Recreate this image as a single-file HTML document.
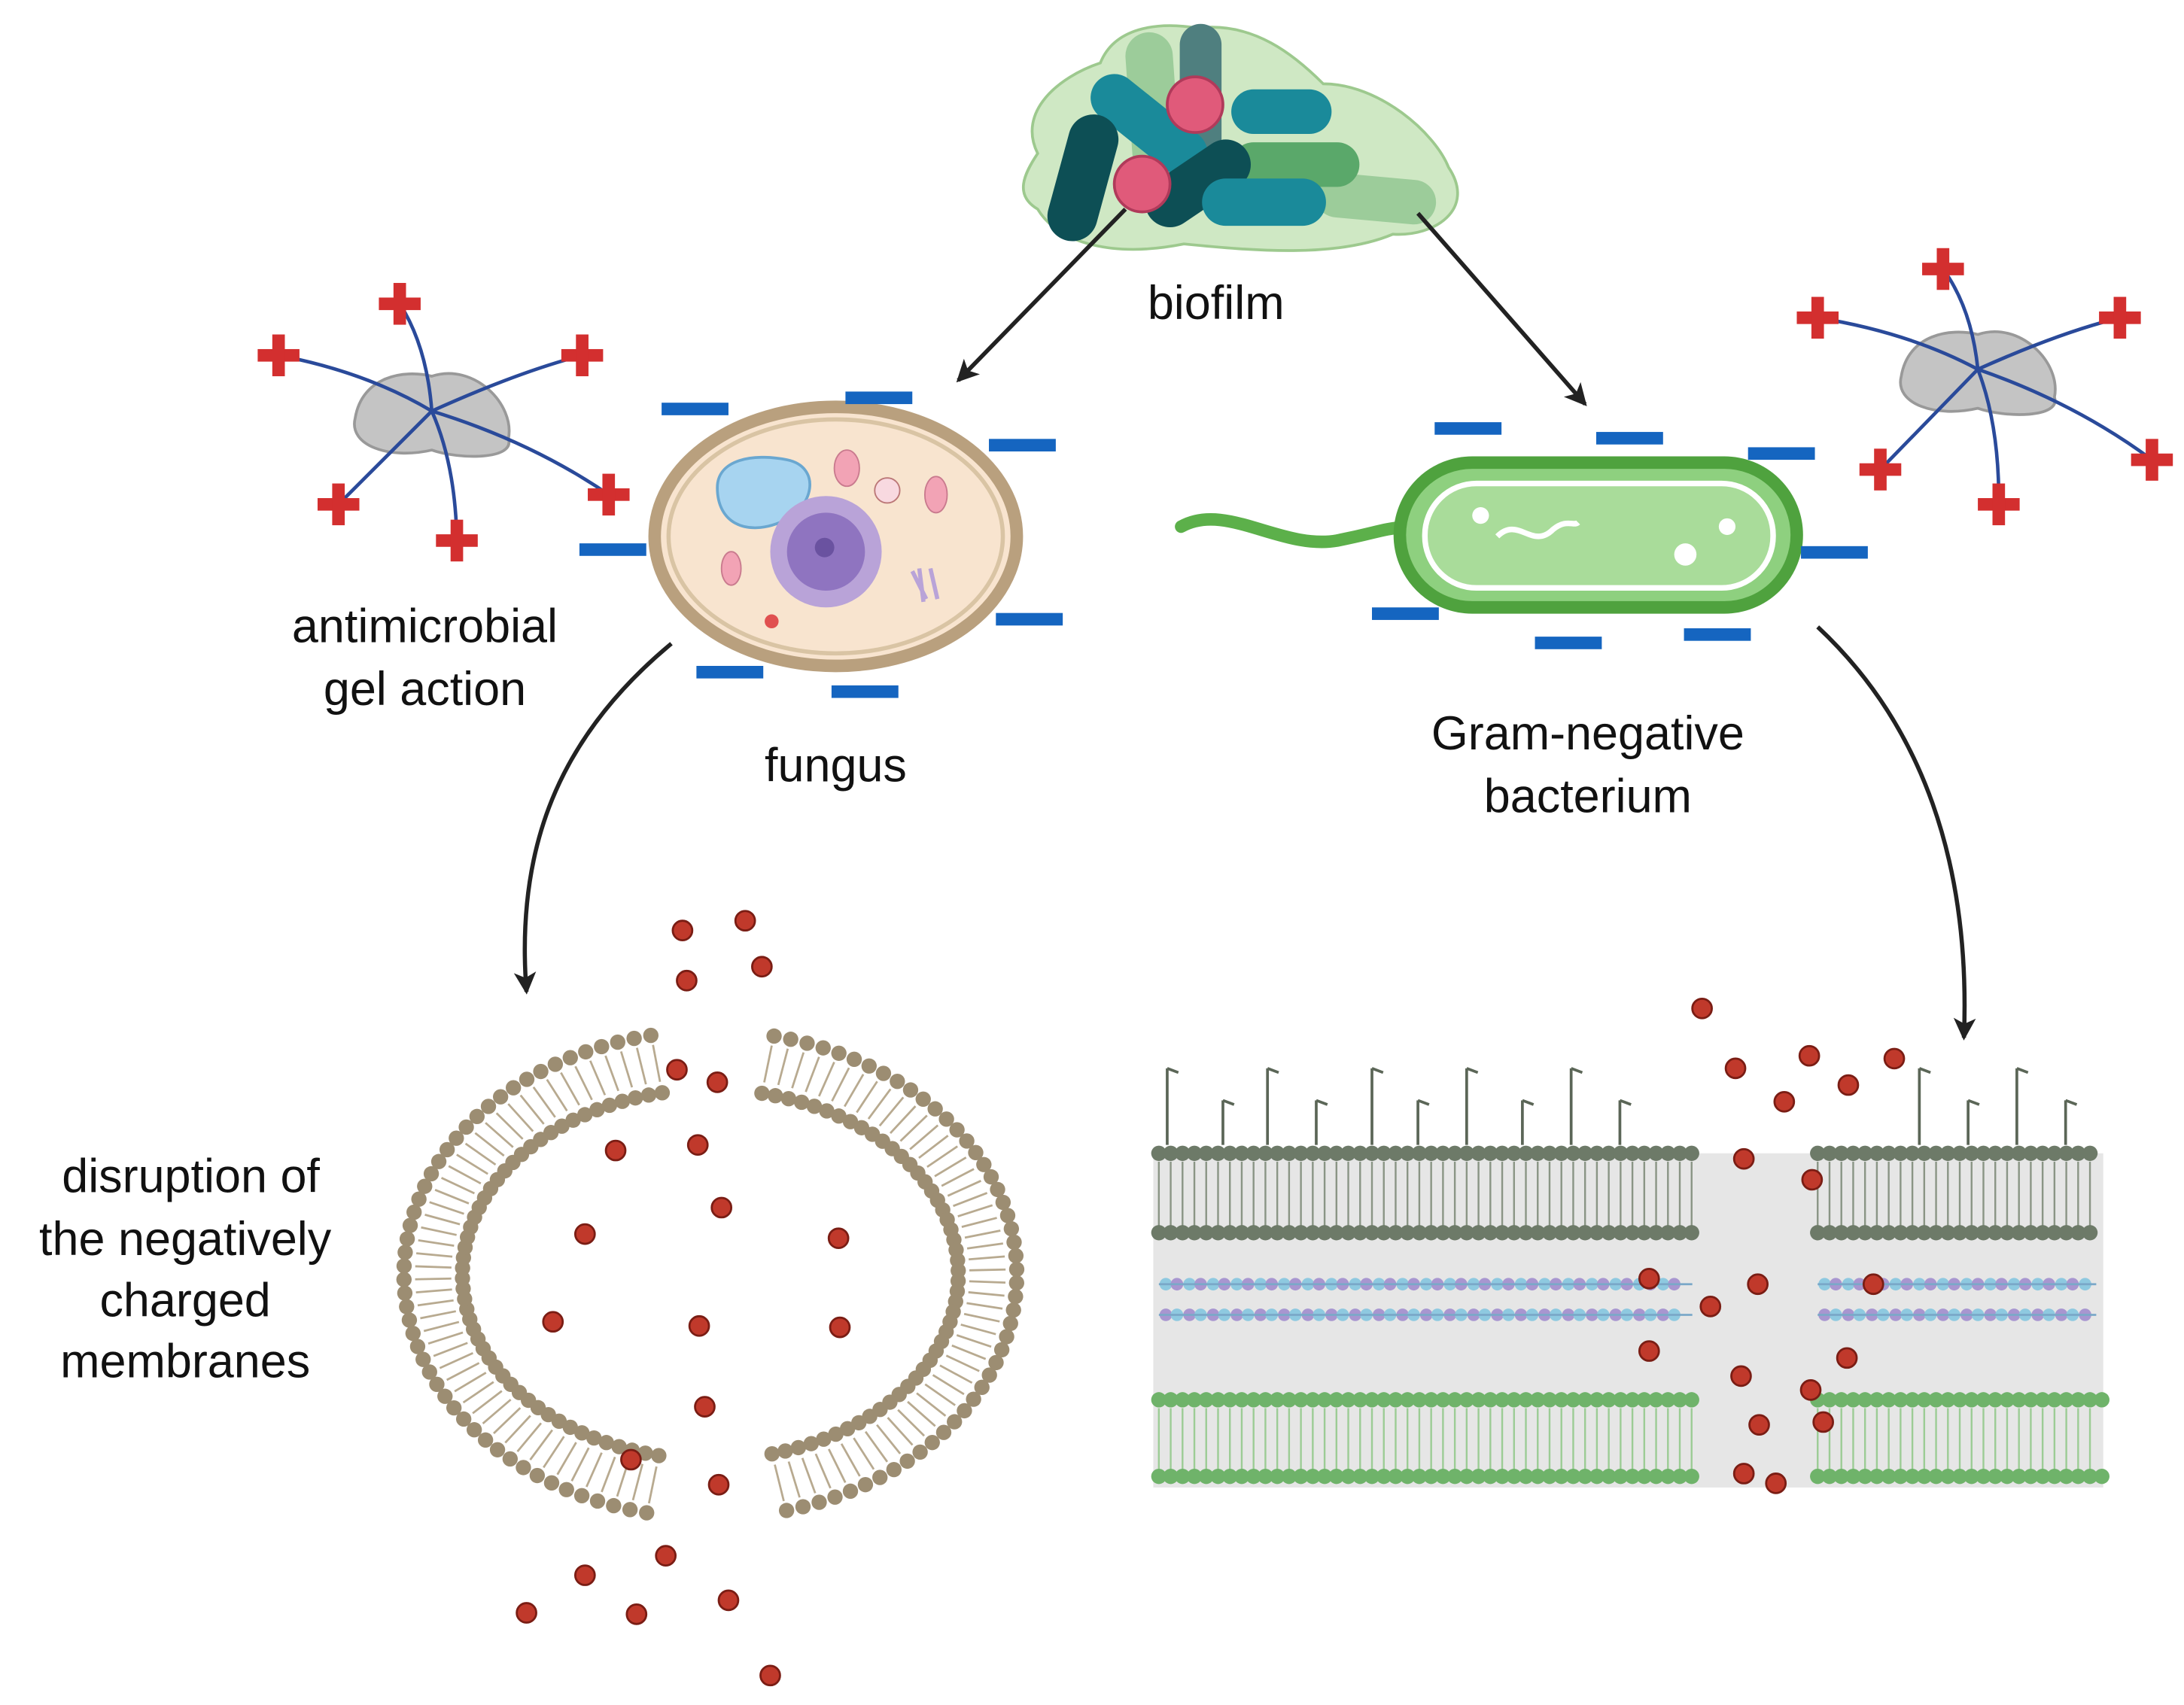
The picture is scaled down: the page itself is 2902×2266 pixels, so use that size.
<!DOCTYPE html>
<html><head><meta charset="utf-8"><style>
html,body{margin:0;padding:0;background:#fff;}
svg{display:block}
text{font-family:"Liberation Sans",sans-serif;fill:#111;}
</style></head><body>
<svg id="s" width="2902" height="2266" viewBox="0 0 1568 1224" xmlns="http://www.w3.org/2000/svg">
<defs>
<marker id="ah" markerWidth="18" markerHeight="18" refX="14" refY="8" orient="auto" markerUnits="userSpaceOnUse"><path d="M0,0 L16,8 L0,16 L4,8 z" fill="#222"/></marker>
</defs>
<rect width="1568" height="1224" fill="#fff"/>
<path d="M745,110 C730,80 760,55 790,45 C800,20 830,15 860,20 C900,15 930,40 950,60 C990,60 1030,95 1040,120 C1060,150 1030,170 1000,168 C960,185 900,180 850,175 C800,185 760,175 745,150 C728,140 735,125 745,110 z" fill="#cfe8c4" stroke="#9dc98e" stroke-width="2"/>
<g stroke-linecap="round" fill="none">
<line x1="825" y1="40" x2="830" y2="110" stroke="#9ccc9a" stroke-width="34"/>
<line x1="862" y1="32" x2="862" y2="100" stroke="#4f7f7f" stroke-width="30"/>
<line x1="900" y1="80" x2="940" y2="80" stroke="#1a8a9a" stroke-width="32"/>
<line x1="800" y1="70" x2="850" y2="110" stroke="#1a8a9a" stroke-width="34"/>
<line x1="785" y1="100" x2="770" y2="155" stroke="#0d4f55" stroke-width="36"/>
<line x1="960" y1="140" x2="1015" y2="145" stroke="#9ccc9a" stroke-width="32"/>
<line x1="900" y1="118" x2="960" y2="118" stroke="#5aa86a" stroke-width="32"/>
<line x1="840" y1="145" x2="880" y2="118" stroke="#0d4f55" stroke-width="36"/>
<line x1="880" y1="145" x2="935" y2="145" stroke="#1a8a9a" stroke-width="34"/>
</g>
<circle cx="858" cy="75" r="20" fill="#e05a7a" stroke="#b03a5a" stroke-width="2"/>
<circle cx="820" cy="132" r="20" fill="#e05a7a" stroke="#b03a5a" stroke-width="2"/>
<text x="873" y="229" font-size="34" text-anchor="middle">biofilm</text>
<line x1="808" y1="150" x2="688" y2="273" stroke="#222" stroke-width="3" marker-end="url(#ah)"/>
<line x1="1018" y1="153" x2="1138" y2="290" stroke="#222" stroke-width="3" marker-end="url(#ah)"/>
<ellipse cx="600" cy="385" rx="130" ry="93" fill="#f8e4cf" stroke="#b9a07e" stroke-width="9"/>
<ellipse cx="600" cy="385" rx="120" ry="84" fill="none" stroke="#d9c4a4" stroke-width="3"/>
<path d="M515,350 C515,330 540,325 565,330 C590,335 585,365 560,375 C535,385 515,375 515,350z" fill="#a7d4f0" stroke="#6aa7d0" stroke-width="2"/>
<circle cx="593" cy="396" r="40" fill="#b9a3d8"/>
<circle cx="593" cy="396" r="28" fill="#8f74c0"/>
<circle cx="592" cy="393" r="7" fill="#6a52a0"/>
<ellipse cx="608" cy="336" rx="9" ry="13" fill="#f2a3b5" stroke="#c97a8e"/>
<ellipse cx="672" cy="355" rx="8" ry="13" fill="#f2a3b5" stroke="#c97a8e"/>
<ellipse cx="525" cy="408" rx="7" ry="12" fill="#f2a3b5" stroke="#c97a8e"/>
<circle cx="637" cy="352" r="9" fill="#f8d9e0" stroke="#b77"/>
<circle cx="554" cy="446" r="5" fill="#e05050"/>
<path d="M655,410 l10,20 m-5,-22 l3,24 m5,-24 l5,22" stroke="#b9a3d8" stroke-width="3"/>
<text x="600" y="561" font-size="34" text-anchor="middle">fungus</text>
<path d="M848,378 C880,360 920,395 960,388 C990,382 990,380 1010,378" fill="none" stroke="#5cb04a" stroke-width="9" stroke-linecap="round"/>
<rect x="1005" y="332" width="285" height="104" rx="52" fill="#8ed07f" stroke="#4fa23e" stroke-width="9"/>
<rect x="1023" y="347" width="250" height="75" rx="37" fill="#a9dc9a" stroke="#fff" stroke-width="4"/>
<path d="M1075,385 C1090,370 1100,395 1115,380 C1125,372 1130,378 1133,375" stroke="#fff" stroke-width="4" fill="none"/>
<circle cx="1063" cy="370" r="6" fill="#fff"/><circle cx="1240" cy="378" r="6" fill="#fff"/><circle cx="1210" cy="398" r="8" fill="#fff"/>
<text x="1140" y="538" font-size="34" text-anchor="middle">Gram-negative</text>
<text x="1140" y="583" font-size="34" text-anchor="middle">bacterium</text>
<text x="305" y="461" font-size="34" text-anchor="middle">antimicrobial</text>
<text x="305" y="506" font-size="34" text-anchor="middle">gel action</text>
<g font-size="34" text-anchor="middle">
<text x="137" y="856">disruption of</text>
<text x="133" y="901">the negatively</text>
<text x="133" y="945">charged</text>
<text x="133" y="989">membranes</text>
</g>
<path d="M482,462 C400,530 370,610 378,712" fill="none" stroke="#222" stroke-width="3" marker-end="url(#ah)"/>
<path d="M1305,450 C1380,520 1415,620 1410,745" fill="none" stroke="#222" stroke-width="3" marker-end="url(#ah)"/>
<rect x="828" y="828" width="682" height="240" fill="#e6e6e6"/>
<g id="g"></g>
</svg>
<script>
const g=document.getElementById('g');const NS='http://www.w3.org/2000/svg';
function el(t,a){const e=document.createElementNS(NS,t);for(const k in a)e.setAttribute(k,a[k]);g.appendChild(e);return e;}
[[475,293],[607,285],[710,319],[416,394],[715,444],[500,482],[597,496],[1030,307],[1146,314],[1255,325],[1293,396],[985,440],[1102,461],[1209,455]].forEach(p=>el('rect',{x:p[0],y:p[1]-4,width:48,height:9,fill:'#1565c0'}));
function gel(cx,cy,cr){el('path',{d:`M${cx-55},${cy+5} C${cx-50},${cy-25} ${cx-20},${cy-30} ${cx},${cy-25} C${cx+30},${cy-35} ${cx+60},${cy-5} ${cx+55},${cy+20} C${cx+60},${cy+35} ${cx+20},${cy+35} ${cx},${cy+28} C${cx-30},${cy+35} ${cx-60},${cy+25} ${cx-55},${cy+5}z`,fill:'#c4c4c4',stroke:'#999','stroke-width':2});
cr.forEach(p=>{const mx=(cx+p[0])/2+8,my=(cy+p[1])/2-8;el('path',{d:`M${cx},${cy} Q${mx},${my} ${p[0]},${p[1]}`,fill:'none',stroke:'#2a4a9a','stroke-width':2.5});
el('rect',{x:p[0]-15,y:p[1]-4.5,width:30,height:9,fill:'#d32f2f'});el('rect',{x:p[0]-4.5,y:p[1]-15,width:9,height:30,fill:'#d32f2f'});});}
gel(310,295,[[200,255],[287,218],[418,255],[437,355],[328,388],[243,362]]);
gel(1420,265,[[1395,193],[1305,228],[1522,228],[1545,330],[1350,337],[1435,362]]);
const cx=510,cy=915,tan='#9c8d72';
function arc(a0,a1){for(let a=a0;a<=a1;a+=3.2){const r=a*Math.PI/180,c=Math.cos(r),s=Math.sin(r);
const ox=cx+220*c,oy=cy+175*s,ix=cx+178*c,iy=cy+133*s;
el('circle',{cx:ox,cy:oy,r:5.5,fill:tan});el('circle',{cx:ix,cy:iy,r:5.5,fill:tan});
el('line',{x1:cx+212*c,y1:cy+168*s,x2:cx+186*c,y2:cy+141*s,stroke:'#b8aa90','stroke-width':1.5});}}
arc(-258,-100);arc(-78,78);
function row(x0,x1,y,r,col,step){for(let x=x0;x<=x1;x+=step)el('circle',{cx:x,cy:y,r:r,fill:col});}
function tails(x0,x1,y0,y1,col){for(let x=x0;x<=x1;x+=8.5)el('line',{x1:x,y1:y0,x2:x,y2:y1,stroke:col,'stroke-width':1.3});}
[[832,1215],[1305,1505]].forEach(s=>{
 row(s[0],s[1],828,5.5,'#6d7a68',8.5);tails(s[0],s[1],834,880,'#8a9585');row(s[0],s[1],885,5.5,'#6d7a68',8.5);
 row(s[0]+5,s[1]-5,922,4.5,'#8ec9e0',17);row(s[0]+13,s[1]-5,922,4.5,'#a896d0',17);
 el('line',{x1:s[0],y1:922,x2:s[1],y2:922,stroke:'#7aa8c8','stroke-width':1.5});
 row(s[0]+5,s[1]-5,944,4.5,'#a896d0',17);row(s[0]+13,s[1]-5,944,4.5,'#8ec9e0',17);
 el('line',{x1:s[0],y1:944,x2:s[1],y2:944,stroke:'#7aa8c8','stroke-width':1.5});
 row(s[0],s[1]+5,1005,5.5,'#6fb36a',8.5);tails(s[0],s[1],1011,1055,'#9ccc95');row(s[0],s[1]+5,1060,5.5,'#6fb36a',8.5);
});
[838,878,910,945,985,1018,1053,1093,1128,1163,1378,1413,1448,1483].forEach((x,i)=>{const h=i%2?32:55;
 el('line',{x1:x,y1:822,x2:x,y2:822-h,stroke:'#5b6657','stroke-width':2});el('line',{x1:x,y1:822-h,x2:x+8,y2:822-h+3,stroke:'#5b6657','stroke-width':2});});
[[490,668],[535,661],[547,694],[493,704],[486,768],[515,777],[442,826],[501,822],[518,867],[420,886],[602,889],[397,949],[502,952],[603,953],[506,1010],[453,1048],[516,1066],[478,1117],[420,1131],[523,1149],[378,1158],[457,1159],[553,1203],
[1222,724],[1246,767],[1299,758],[1360,760],[1281,791],[1327,779],[1252,832],[1301,847],[1262,922],[1184,918],[1345,922],[1228,938],[1326,975],[1184,970],[1250,988],[1300,998],[1263,1023],[1309,1021],[1252,1058],[1275,1065]].forEach(p=>el('circle',{cx:p[0],cy:p[1],r:7,fill:'#c0392b',stroke:'#7a1d14','stroke-width':1.5}));
</script>
</body></html>
